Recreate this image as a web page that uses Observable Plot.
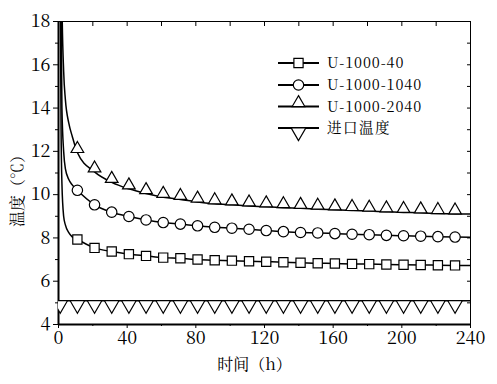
<!DOCTYPE html>
<html><head><meta charset="utf-8">
<script src="https://cdn.jsdelivr.net/npm/d3@7"></script>
<script src="https://cdn.jsdelivr.net/npm/@observablehq/plot@0.6"></script>
<style>
body{margin:0;background:#fff}
#wrap{position:relative;width:497px;height:384px;background:#fff}
#legend{position:absolute;left:0;top:0}
</style>
</head><body><div id="wrap"></div>
<script>
// ---- data ----
const seriesNames = ["U-1000-40", "U-1000-1040", "U-1000-2040", "进口温度"];
const earlyTimes = [0, 1, 1.5, 2, 3, 4, 6, 8];
const markerTimes = [11, 21, 31, 41, 51, 61, 71, 81, 91, 101, 111, 121, 131, 141, 151, 161, 171, 181, 191, 201, 211, 221, 231];
const endTime = 240;
const sqEarly = [32, 20, 13, 10.5, 9.0, 8.6, 8.25, 8.05];
const sqValues = [7.93, 7.54, 7.37, 7.25, 7.17, 7.09, 7.06, 7.00, 6.97, 6.95, 6.92, 6.90, 6.88, 6.85, 6.83, 6.82, 6.80, 6.79, 6.77, 6.76, 6.75, 6.74, 6.73];
const sqEnd = 6.72;
const ciEarly = [34, 26, 19, 14, 12.0, 11.2, 10.7, 10.45];
const ciValues = [10.2, 9.53, 9.19, 8.99, 8.83, 8.71, 8.64, 8.56, 8.49, 8.45, 8.40, 8.34, 8.29, 8.25, 8.23, 8.20, 8.17, 8.15, 8.12, 8.10, 8.08, 8.06, 8.04];
const ciEnd = 8.03;
const trEarly = [36, 30, 24, 19, 15.7, 14.4, 13.3, 12.7];
const trValues = [11.95, 11.05, 10.57, 10.27, 10.05, 9.88, 9.78, 9.66, 9.58, 9.53, 9.48, 9.44, 9.40, 9.37, 9.33, 9.30, 9.27, 9.24, 9.21, 9.18, 9.16, 9.13, 9.11];
const trEnd = 9.10;
const inletLineTimes = [0, 240];
const inletMarkerTimes = [1, 11, 21, 31, 41, 51, 61, 71, 81, 91, 101, 111, 121, 131, 141, 151, 161, 171, 181, 191, 201, 211, 221, 231];
const inletTemp = 5.1;

const xDomain = [0, 240];
const yDomain = [4, 18];
const xMajor = [0, 40, 80, 120, 160, 200, 240];
const xMinor = [20, 60, 100, 140, 180, 220];
const xTop = [0, 20, 40, 60, 80, 100, 120, 140, 160, 180, 200, 220, 240];
const yMajor = [4, 6, 8, 10, 12, 14, 16, 18];
const yMinor = [5, 7, 9, 11, 13, 15, 17];
const yRight = [4, 5, 6, 7, 8, 9, 10, 11, 12, 13, 14, 15, 16, 17, 18];
const xTitle = "时间（h）";
const yTitle = "温度（℃）";

const SERIF = "Noto Serif CJK SC, Liberation Serif, serif";
const CJK = "Noto Serif CJK SC, Noto Sans CJK SC, sans-serif";

const styles = [
  {symbol: "square", r: 5.2, rotate: 0, dy: 0},
  {symbol: "circle", r: 5.2, rotate: 0, dy: 0},
  {symbol: "triangle", r: 4.7, rotate: 0, dy: -3.6},
  {symbol: "triangle", r: 5.4, rotate: 180, dy: 4.2}
];

const lineRows = [], dotRows = [];
[[sqEarly, sqValues, sqEnd], [ciEarly, ciValues, ciEnd], [trEarly, trValues, trEnd]].forEach(([e, v, end], k) => {
  const name = seriesNames[k];
  earlyTimes.forEach((t, i) => lineRows.push({name, t, v: e[i]}));
  markerTimes.forEach((t, i) => { lineRows.push({name, t, v: v[i]}); dotRows.push({name, k, t, v: v[i]}); });
  lineRows.push({name, t: endTime, v: end});
});
inletLineTimes.forEach(t => lineRows.push({name: seriesNames[3], t, v: inletTemp}));
inletMarkerTimes.forEach(t => dotRows.push({name: seriesNames[3], k: 3, t, v: inletTemp}));

const blank = () => "";
const dotMarks = styles.map((s, k) => Plot.dot(dotRows.filter(d => d.k === k), {
  x: "t", y: "v", symbol: s.symbol, r: s.r, rotate: s.rotate, dy: s.dy,
  fill: "white", stroke: "black", strokeWidth: 1.2, clip: true
}));

const chart = Plot.plot({
  width: 497, height: 384,
  marginLeft: 58, marginRight: 27, marginTop: 21, marginBottom: 60,
  style: {fontSize: "18px", background: "white", color: "black"},
  x: {domain: xDomain},
  y: {domain: yDomain},
  marks: [
    Plot.frame({stroke: "black", strokeWidth: 1}),
    Plot.axisY(yMajor, {anchor: "left", tickSize: 5, tickPadding: 3, label: null, tickFormat: d => String(d), fontSize: 18, fontFamily: SERIF}),
    Plot.axisY(yMinor, {anchor: "left", tickSize: 3, label: null, tickFormat: blank}),
    Plot.axisY(yRight, {anchor: "right", tickSize: -4, label: null, tickFormat: blank}),
    Plot.axisX(xMajor, {anchor: "bottom", tickSize: 4, tickPadding: 3, label: null, tickFormat: d => String(d), fontSize: 18, fontFamily: SERIF}),
    Plot.axisX(xMinor, {anchor: "bottom", tickSize: 2, label: null, tickFormat: blank}),
    Plot.axisX(xTop, {anchor: "top", tickSize: -4, label: null, tickFormat: blank}),
    Plot.ruleX([xDomain[0]], {stroke: "black", strokeWidth: 2}),
    Plot.ruleY([yDomain[0]], {stroke: "black", strokeWidth: 2.2}),
    Plot.line(lineRows, {x: "t", y: "v", z: "name", stroke: "black", strokeWidth: 1.5, curve: "monotone-x", clip: true}),
    ...dotMarks,
    Plot.text([xTitle], {frameAnchor: "bottom", lineAnchor: "middle", textAnchor: "middle", dy: 40, dx: -10, fontSize: 16, fill: "black", fontFamily: CJK}),
    Plot.text([yTitle], {frameAnchor: "left", lineAnchor: "middle", textAnchor: "middle", rotate: -90, dx: -41, dy: 14, fontSize: 16, fill: "black", fontFamily: CJK})
  ]
});
chart.setAttribute("font-family", SERIF);
document.getElementById("wrap").appendChild(chart);

// ---- legend (overlay) ----
const legendRowsY = [63, 85, 106.5, 128];
const lg = d3.select("#wrap").append("svg").attr("id", "legend").attr("width", 497).attr("height", 384);
seriesNames.forEach((name, k) => {
  const s = styles[k];
  const y = legendRowsY[k];
  const g = lg.append("g");
  g.append("line").attr("x1", 278).attr("x2", 319).attr("y1", y).attr("y2", y).attr("stroke", "black").attr("stroke-width", 2);
  const sym = {square: d3.symbolSquare, circle: d3.symbolCircle, triangle: d3.symbolTriangle}[s.symbol];
  g.append("path").attr("d", d3.symbol(sym, s.r * s.r * Math.PI)())
    .attr("transform", `translate(298.5,${y + s.dy}) rotate(${s.rotate})`)
    .attr("fill", "white").attr("stroke", "black").attr("stroke-width", 1.2);
  g.append("text").attr("x", 327).attr("y", y).attr("dy", "0.35em")
    .attr("font-family", k === 3 ? CJK : SERIF)
    .attr("font-size", 14.5).attr("letter-spacing", k === 3 ? 1.5 : 0.9)
    .attr("fill", "black").text(name);
});
</script>
</body></html>
